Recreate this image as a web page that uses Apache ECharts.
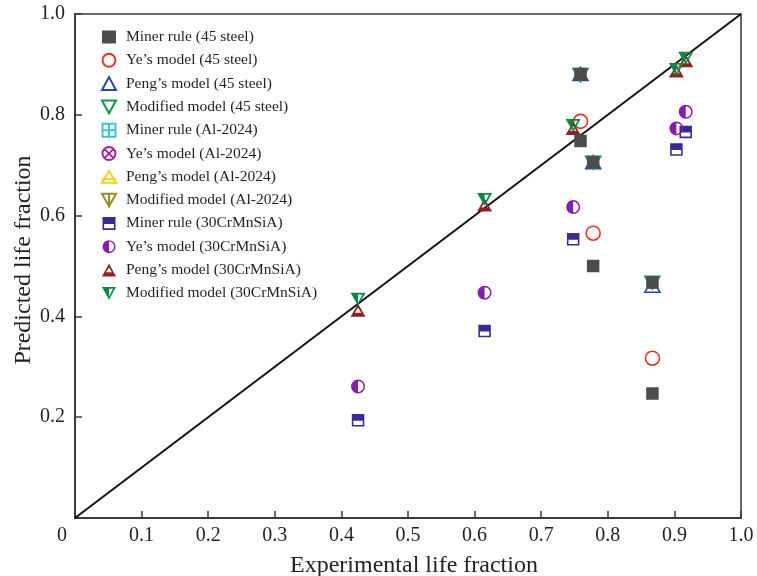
<!DOCTYPE html>
<html>
<head>
<meta charset="utf-8">
<script src="https://cdn.jsdelivr.net/npm/echarts@6/dist/echarts.min.js"></script>
<style>html,body{margin:0;padding:0;background:#fff}#c{width:757px;height:576px}</style>
</head>
<body>
<div id="c"></div>
<script>
// ---- data ----
var seriesNames = [
  "Miner rule (45 steel)", "Ye\u2019s model (45 steel)", "Peng\u2019s model (45 steel)", "Modified model (45 steel)",
  "Miner rule (Al-2024)", "Ye\u2019s model (Al-2024)", "Peng\u2019s model (Al-2024)", "Modified model (Al-2024)",
  "Miner rule (30CrMnSiA)", "Ye\u2019s model (30CrMnSiA)", "Peng\u2019s model (30CrMnSiA)", "Modified model (30CrMnSiA)"
];
var miner45X = [0.759, 0.759, 0.778, 0.778, 0.867, 0.867];
var miner45Y = [0.881, 0.748, 0.706, 0.500, 0.467, 0.247];
var steel45X = [0.759, 0.778, 0.867];
var ye45Y    = [0.787, 0.565, 0.317];
var peng45Y  = [0.881, 0.706, 0.461];
var mod45Y   = [0.879, 0.705, 0.467];
var alX      = [];
var minerAlY = [];
var yeAlY    = [];
var pengAlY  = [];
var modAlY   = [];
var crX      = [0.425, 0.615, 0.748, 0.903, 0.917];
var miner30Y = [0.194, 0.371, 0.553, 0.731, 0.766];
var ye30Y    = [0.261, 0.447, 0.617, 0.773, 0.806];
var peng30Y  = [0.412, 0.621, 0.773, 0.887, 0.907];
var mod30Y   = [0.434, 0.632, 0.779, 0.890, 0.912];
var diagX = [0, 1];
var diagY = [0, 1];
var xTicks = [0, 0.1, 0.2, 0.3, 0.4, 0.5, 0.6, 0.7, 0.8, 0.9, 1.0];
var yTicks = [0, 0.2, 0.4, 0.6, 0.8, 1.0];

function pairs(xs, ys) { return xs.map(function (x, i) { return [x, ys[i]]; }); }

var FONT = "Liberation Serif";
var TXT = "#231f20";

var P = {
  downTri: "path://M0 0 L24 0 L12 22 Z",
  boxPlus: "path://M0 0 H24 V24 H0 Z M12 0 V24 M0 12 H24",
  circX: "path://M12 0 A12 12 0 1 1 12 24 A12 12 0 1 1 12 0 Z M3.5 3.5 L20.5 20.5 M20.5 3.5 L3.5 20.5",
  triBar: "path://M12 0 L24 20 L0 20 Z M0 14 H24",
  downTriV: "path://M0 0 H24 L12 22 Z M12 0 V22",
  halfSq: "path://M0 0 H24 V24 H0 Z M3 13 V21 H21 V13 Z",
  halfCirc: "path://M12 0 A12 12 0 1 1 12 24 A12 12 0 1 1 12 0 Z M12 2.6 L12 21.4 A9.4 9.4 0 0 0 12 2.6 Z",
  halfTri: "path://M12 0 L24 22 L0 22 Z M12 6.5 L6.8 15 L17.2 15 Z",
  halfDownTri: "path://M0 0 L24 0 L12 22 Z M12 3 L12 17 L19 3 Z"
};

function sc(name, data, symbol, size, style, z) {
  return {
    type: "scatter", name: name, data: data, symbol: symbol, symbolSize: size,
    itemStyle: style, z: z || 2, emphasis: { disabled: true }
  };
}
var hollow = function (c) { return { color: "rgba(255,255,255,0)", borderColor: c, borderWidth: 1.6, opacity: 1 }; };
var solid = function (c) { return { color: c, borderWidth: 0, opacity: 1 }; };

var series = [
  { type: "line", data: pairs(diagX, diagY), symbol: "none", z: 1, silent: true,
    lineStyle: { color: "#111", width: 2 } },
  sc(seriesNames[0], pairs(miner45X, miner45Y), "rect", 12.5, solid("#4d4d4d"), 4),
  sc(seriesNames[1], pairs(steel45X, ye45Y), "circle", 14, hollow("#e5321f")),
  sc(seriesNames[2], pairs(steel45X, peng45Y), "triangle", [15, 13], hollow("#2047b5")),
  sc(seriesNames[3], pairs(steel45X, mod45Y), P.downTri, [15, 13], hollow("#0c9a4a")),
  sc(seriesNames[4], pairs(alX, minerAlY), P.boxPlus, 12, hollow("#39c6cf")),
  sc(seriesNames[5], pairs(alX, yeAlY), P.circX, 12, hollow("#a3239e")),
  sc(seriesNames[6], pairs(alX, pengAlY), P.triBar, [14, 12], hollow("#f2d21a")),
  sc(seriesNames[7], pairs(alX, modAlY), P.downTriV, [14, 12], hollow("#9b8a26")),
  sc(seriesNames[8], pairs(crX, miner30Y), P.halfSq, 12.5, solid("#382b94")),
  sc(seriesNames[9], pairs(crX, ye30Y), P.halfCirc, 14, solid("#861dab")),
  sc(seriesNames[10], pairs(crX, peng30Y), P.halfTri, [15, 13], solid("#8c2321")),
  sc(seriesNames[11], pairs(crX, mod30Y), P.halfDownTri, [15, 13], solid("#098846"))
];

var chart = echarts.init(document.getElementById("c"), null, { renderer: "canvas" });
chart.setOption({
  animation: false,
  backgroundColor: "#fff",
  grid: { left: 75, right: 16, top: 14, bottom: 58, containLabel: false, outerBoundsMode: "none",
          show: true, borderColor: "#3a3a3a", borderWidth: 1.5, backgroundColor: "transparent" },
  legend: {
    data: seriesNames, orient: "vertical", left: 96, top: 24,
    itemWidth: 14, itemHeight: 13, itemGap: 7.3, selectedMode: false,
    textStyle: { fontFamily: FONT, fontSize: 15.5, color: TXT, padding: [0, 0, 0, 5] }
  },
  xAxis: {
    type: "value", min: xTicks[0], max: xTicks[xTicks.length - 1], interval: 0.1,
    name: "Experimental life fraction", nameLocation: "middle", nameGap: 36,
    nameTextStyle: { fontFamily: FONT, fontSize: 24, color: TXT, padding: [0, 0, 0, 12] },
    axisLine: { show: true, onZero: false, lineStyle: { color: "#3a3a3a", width: 2 } },
    axisTick: { show: true, inside: true, length: 7, lineStyle: { color: "#3a3a3a", width: 1.5 } },
    splitLine: { show: false },
    axisLabel: {
      fontFamily: FONT, fontSize: 20, color: TXT, margin: 8,
      formatter: function (v) { return v === 0 ? "{o|0}" : v.toFixed(1); },
      rich: { o: { fontFamily: FONT, fontSize: 20, color: TXT, padding: [0, 26, 0, 0] } }
    }
  },
  yAxis: {
    type: "value", min: yTicks[0], max: yTicks[yTicks.length - 1], interval: 0.2,
    name: "Predicted life fraction", nameLocation: "middle", nameGap: 39, nameMoveOverlap: false,
    nameTextStyle: { fontFamily: FONT, fontSize: 24, color: TXT, padding: [0, 0, 0, 12] },
    axisLine: { show: true, onZero: false, lineStyle: { color: "#3a3a3a", width: 2 } },
    axisTick: { show: true, inside: true, length: 7, lineStyle: { color: "#3a3a3a", width: 1.5 } },
    splitLine: { show: false },
    axisLabel: {
      fontFamily: FONT, fontSize: 20, color: TXT, margin: 10,
      formatter: function (v) { return v === 0 ? "" : v.toFixed(1); }
    }
  },
  series: series
});
</script>
</body>
</html>
